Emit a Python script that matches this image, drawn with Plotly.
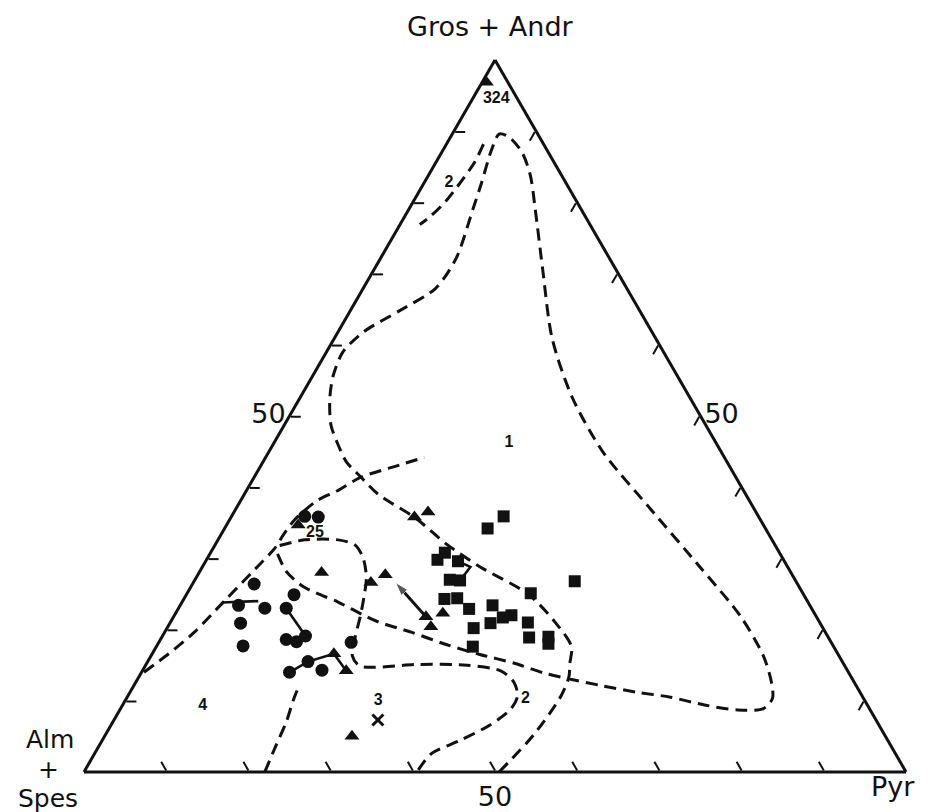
import plotly.graph_objects as go

# ---- data: ternary compositions in % (a = Gros+Andr, c = Pyr; Alm+Spes is the remainder) ----
circ_gros = [35.9, 35.8, 26.4, 24.9, 23.4, 23.0, 23.0, 20.9, 17.7, 18.6, 18.3, 19.1, 18.2, 15.5, 14.0, 14.3]
circ_pyr = [8.9, 10.6, 7.5, 13.1, 7.1, 10.5, 13.1, 8.6, 10.5, 15.3, 16.7, 17.4, 23.4, 19.5, 18.0, 21.8]

tri_gros = [34.7, 35.8, 36.5, 28.0, 26.6, 27.7, 21.8, 22.3, 20.4, 16.6, 14.2, 5.0, 96.9]
tri_pyr = [8.7, 22.3, 23.6, 14.9, 21.6, 22.8, 30.7, 32.5, 32.0, 22.1, 24.8, 30.1, 0.5]

sq_gros = [35.9, 34.2, 29.8, 30.8, 29.6, 27.0, 26.9, 24.3, 24.4, 22.9, 23.4, 20.9, 21.7, 22.0,
           20.2, 21.0, 25.1, 26.8, 18.9, 19.0, 18.0, 17.6]
sq_pyr = [33.1, 32.0, 28.1, 28.5, 30.7, 31.0, 32.3, 31.7, 33.2, 35.4, 38.0, 39.0, 40.1, 41.0,
          37.3, 43.5, 41.8, 46.3, 44.7, 47.0, 47.5, 38.5]

cross_gros = [7.3]
cross_pyr = [32.1]

# dashed field boundaries
field1_gros = [0, 5.2, 10.7, 13.4, 15.2, 17.6, 21.2, 25.0, 28.8, 32.0, 35.6, 39.0, 41.4, 43.6, 46.0,
               48.7, 52.4, 55.6, 59.0, 61.8, 64.8, 67.9, 72.1, 79.0, 82.7, 87.3, 89.6, 89.2, 87.0,
               83.8, 79.0, 70.6, 60.9, 52.6, 45.0, 37.3, 28.9, 21.9, 16.3, 12.5, 10.3, 8.9, 8.7,
               9.4, 10.5, 11.2, 12.1, 13.1, 13.9, 15.3, 16.5, 17.9, 19.6, 21.1, 22.2, 23.9, 24.9,
               26.0, 28.1, 30.9]
field1_pyr = [50.5, 52.1, 52.7, 52.3, 51.5, 50.5, 46.6, 41.5, 33.8, 28.1, 22.6, 16.3, 13.0, 10.1, 7.9,
              5.7, 3.7, 2.5, 2.0, 3.1, 6.0, 8.8, 9.2, 7.8, 7.0, 5.9, 5.7, 7.1, 9.8,
              12.4, 15.4, 20.5, 26.5, 33.1, 40.6, 50.0, 60.4, 68.9, 74.5, 77.4, 78.6, 78.2, 75.2,
              70.8, 66.1, 61.6, 57.0, 52.4, 49.0, 44.6, 39.9, 35.1, 30.1, 25.2, 22.6, 18.9, 16.3,
              13.7, 10.6, 8.0]

field4_gros = [14.0, 16.6, 19.6, 24.1, 28.6, 31.4, 33.3, 35.4, 38.1, 39.5, 41.4, 43.1, 44.2]
field4_pyr = [0.3, 2.0, 3.6, 5.1, 6.6, 7.5, 7.6, 7.9, 9.3, 11.1, 13.0, 16.8, 19.3]

field3_gros = [31.8, 32.6, 32.6, 31.9, 30.1, 27.3, 24.5, 21.8, 19.0, 16.3, 14.9, 15.1, 15.0, 14.2,
               12.6, 10.7, 8.8, 6.6, 4.4, 2.6, 0]
field3_pyr = [7.9, 10.5, 14.6, 17.0, 18.9, 20.7, 21.8, 22.7, 23.5, 24.5, 26.1, 33.2, 39.1, 43.6,
              46.0, 47.4, 47.5, 46.1, 43.5, 41.0, 40.5]

field5_gros = [0, 3.7, 7.0, 10.2, 12.2]
field5_pyr = [22.0, 21.5, 21.1, 20.4, 20.1]

field2_gros = [88.2, 85.6, 82.9, 80.1, 78.0, 76.9]
field2_pyr = [4.5, 4.7, 4.4, 3.9, 3.1, 2.4]

# solid tie lines
tie_gros = [[23.8, 24.0], [14.0, 15.5, 16.6, 14.2], [23.0, 19.1], [29.6, 28.8, 26.9]]
tie_pyr = [[4.9, 9.2], [18.0, 19.5, 22.1, 24.8], [13.1, 17.4], [30.7, 32.6, 32.3]]

arrow_gros = [21.8, 26.6]
arrow_pyr = [30.7, 24.6]

# field numbers
lab_text = ["324", "2", "1", "25", "3", "4", "2"]
lab_gros = [94.5, 82.8, 46.2, 33.6, 10.0, 9.3, 10.2]
lab_pyr = [2.9, 3.0, 28.6, 11.3, 30.8, 9.8, 48.6]

tick_vals = [10, 20, 30, 40, 50, 60, 70, 80, 90]
tick_text = ["", "", "", "", "50", "", "", "", ""]

INK = "#111111"
FONT = "DejaVu Sans"

fig = go.Figure()

dash_style = dict(color=INK, width=3, dash="12px,7px", shape="spline", smoothing=0.8)
for ga, pc in [(field1_gros, field1_pyr), (field4_gros, field4_pyr), (field3_gros, field3_pyr),
               (field5_gros, field5_pyr), (field2_gros, field2_pyr)]:
    fig.add_trace(go.Scatterternary(a=ga, c=pc, mode="lines", line=dash_style,
                                    hoverinfo="skip", showlegend=False))

for ga, pc in zip(tie_gros, tie_pyr):
    fig.add_trace(go.Scatterternary(a=ga, c=pc, mode="lines",
                                    line=dict(color=INK, width=2.6),
                                    hoverinfo="skip", showlegend=False))

fig.add_trace(go.Scatterternary(a=arrow_gros, c=arrow_pyr, mode="lines+markers",
                                line=dict(color=INK, width=3),
                                marker=dict(symbol="arrow", size=[0, 14], angleref="previous",
                                            color=INK),
                                hoverinfo="skip", showlegend=False))

fig.add_trace(go.Scatterternary(a=circ_gros, c=circ_pyr, mode="markers", name="circles",
                                marker=dict(symbol="circle", size=13, color=INK),
                                showlegend=False))
fig.add_trace(go.Scatterternary(a=tri_gros, c=tri_pyr, mode="markers", name="triangles",
                                marker=dict(symbol="triangle-up", size=13, color=INK),
                                showlegend=False))
fig.add_trace(go.Scatterternary(a=sq_gros, c=sq_pyr, mode="markers", name="squares",
                                marker=dict(symbol="square", size=12, color=INK),
                                showlegend=False))
fig.add_trace(go.Scatterternary(a=cross_gros, c=cross_pyr, mode="markers", name="cross",
                                marker=dict(symbol="x-thin", size=11, color=INK,
                                            line=dict(width=3, color=INK)),
                                showlegend=False))
fig.add_trace(go.Scatterternary(a=lab_gros, c=lab_pyr, mode="text", text=lab_text,
                                textfont=dict(family="Liberation Sans", size=16, color=INK,
                                              weight="bold"),
                                hoverinfo="skip", showlegend=False))

axis_common = dict(min=0, showgrid=False, linecolor=INK, linewidth=3,
                   ticks="inside", ticklen=10, tickwidth=2.2, tickcolor=INK,
                   tickmode="array", tickvals=tick_vals, ticktext=tick_text,
                   tickfont=dict(family=FONT, size=27, color=INK), title=dict(text=""))

fig.update_layout(
    width=932, height=812,
    margin=dict(l=84, r=26, t=60, b=40),
    paper_bgcolor="white",
    ternary=dict(sum=100, bgcolor="white",
                 domain=dict(x=[0, 1], y=[0, 1]),
                 aaxis=axis_common, baxis=axis_common, caxis=axis_common),
    font=dict(family=FONT, color=INK),
)

ann = [("Gros + Andr", 490, 27, 27), ("Alm", 50, 739, 25), ("+", 48, 769, 25),
       ("Spes", 48, 798, 25), ("Pyr", 893, 787, 27)]
for txt, px, py, fs in ann:
    fig.add_annotation(text=txt, xref="paper", yref="paper",
                       x=(px - 84) / 822, y=(772 - py) / 712,
                       xanchor="center", yanchor="middle", showarrow=False,
                       font=dict(family=FONT, size=fs, color=INK))

fig.write_html("out.html")
